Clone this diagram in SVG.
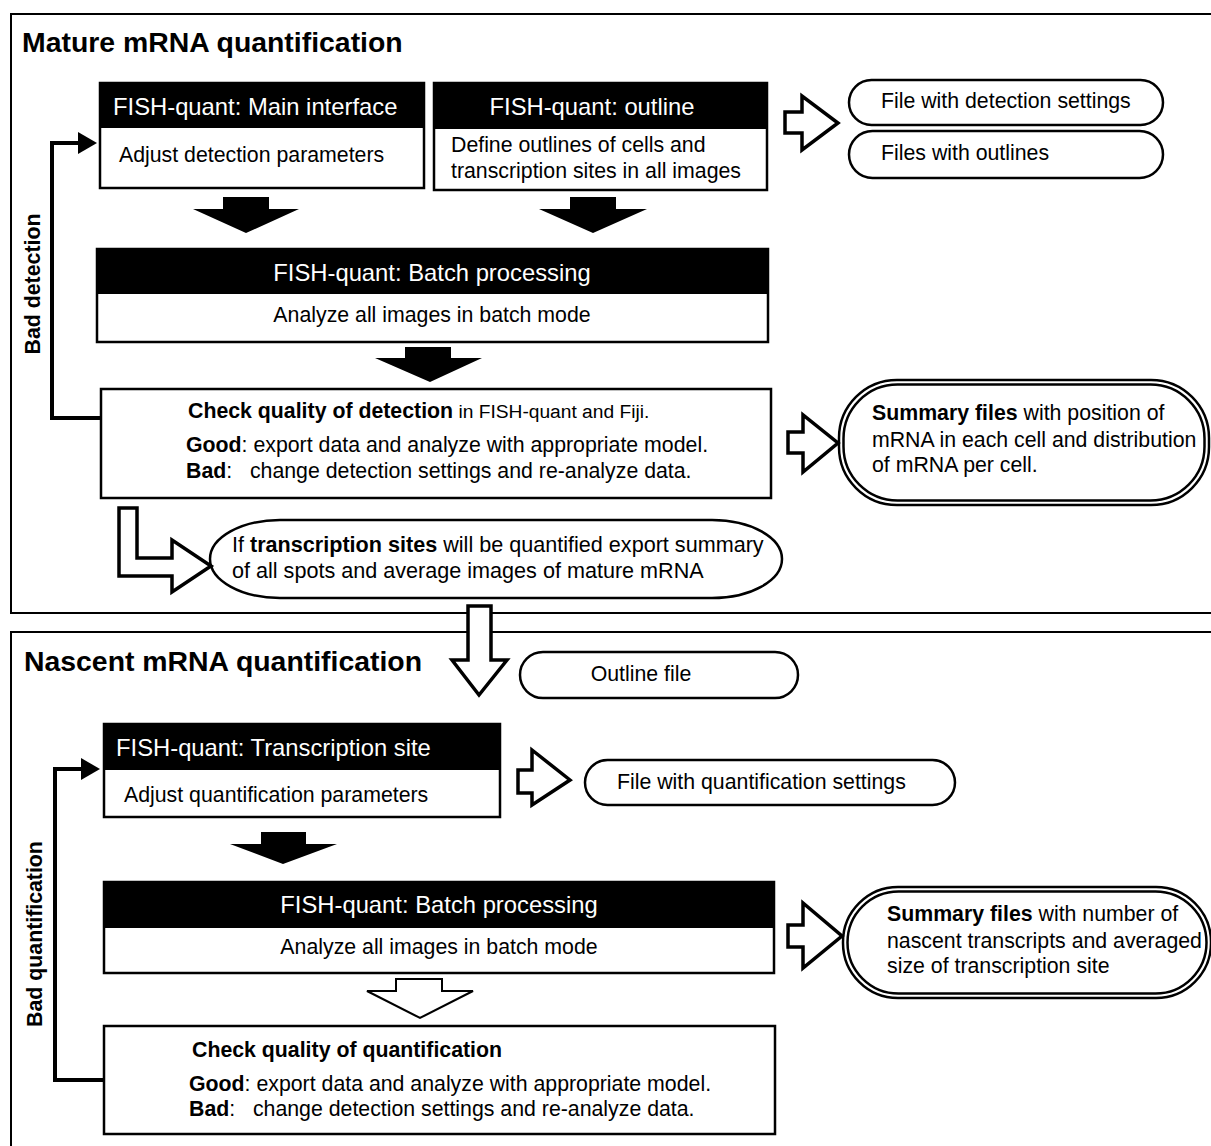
<svg xmlns="http://www.w3.org/2000/svg" width="1211" height="1146" viewBox="0 0 1211 1146">
<style>
text{font-family:"Liberation Sans",Arial,sans-serif;fill:#000}
.t{font-size:28.4px;font-weight:bold}
.h{font-size:23.8px;fill:#fff}
.b{font-size:21.3px}
.s{font-size:19.2px}
.bb{font-weight:bold}
.panel{fill:#fff;stroke:#000;stroke-width:2}
.hdr{fill:#000;stroke:#000;stroke-width:2}
.box{fill:#fff;stroke:#000;stroke-width:2.5}
.pill{fill:#fff;stroke:#000;stroke-width:2.5}
.holl{fill:#fff;stroke:#000;stroke-width:3.5;stroke-linejoin:miter}
.solid{fill:#000;stroke:none}
.fb{fill:none;stroke:#000;stroke-width:4}
</style>
<rect x="0" y="0" width="1211" height="1146" fill="#fff"/>
<g id="panel-mature">
<rect class="panel" x="11" y="14" width="1212" height="599"/>
<text class="t" x="22" y="52">Mature mRNA quantification</text>
</g>
<g id="panel-nascent">
<rect class="panel" x="11" y="632" width="1212" height="530"/>
<text class="t" x="24" y="671">Nascent mRNA quantification</text>
</g>
<g id="node-main-interface">
<rect class="box" x="100" y="83" width="324" height="105"/>
<rect class="hdr" x="100" y="83" width="324" height="44"/>
<text class="h" x="113" y="115">FISH-quant: Main interface</text>
<text class="b" x="119" y="162">Adjust detection parameters</text>
</g>
<g id="node-outline">
<rect class="box" x="434" y="83" width="333" height="107"/>
<rect class="hdr" x="434" y="83" width="333" height="45"/>
<text class="h" x="592" y="115" text-anchor="middle">FISH-quant: outline</text>
<text class="b" x="451" y="152">Define outlines of cells and</text>
<text class="b" x="451" y="178">transcription sites in all images</text>
</g>
<g id="node-file-detection">
<rect class="pill" x="849" y="80" width="314" height="45" rx="22.5"/>
<text class="b" x="881" y="108">File with detection settings</text>
</g>
<g id="node-files-outlines">
<rect class="pill" x="849" y="131" width="314" height="47" rx="23.5"/>
<text class="b" x="881" y="160">Files with outlines</text>
</g>
<g id="node-batch1">
<rect class="box" x="97" y="249" width="671" height="93"/>
<rect class="hdr" x="97" y="249" width="671" height="44"/>
<text class="h" x="432" y="281" text-anchor="middle">FISH-quant: Batch processing</text>
<text class="b" x="432" y="322" text-anchor="middle">Analyze all images in batch mode</text>
</g>
<g id="node-check1">
<rect class="box" x="101" y="389" width="670" height="109"/>
<text class="b" x="188" y="418"><tspan class="bb">Check quality of detection</tspan><tspan class="s"> in FISH-quant and Fiji.</tspan></text>
<text class="b" x="186" y="452"><tspan class="bb">Good</tspan>: export data and analyze with appropriate model.</text>
<text class="b" x="186" y="478" xml:space="preserve"><tspan class="bb">Bad</tspan>:   change detection settings and re-analyze data.</text>
</g>
<g id="node-summary1">
<rect class="pill" x="839" y="380" width="370" height="125" rx="58"/>
<rect class="pill" x="843.5" y="384.5" width="361" height="116" rx="54" stroke-width="2"/>
<text class="b" x="872" y="420"><tspan class="bb">Summary files</tspan> with position of</text>
<text class="b" x="872" y="447">mRNA in each cell and distribution</text>
<text class="b" x="872" y="472">of mRNA per cell.</text>
</g>
<g id="node-ts-export">
<rect class="pill" x="210" y="520" width="572" height="78" rx="70" ry="39"/>
<text class="b" x="232" y="552" style="font-size:21.6px">If <tspan class="bb">transcription sites</tspan> will be quantified export summary</text>
<text class="b" x="232" y="578" style="font-size:21.6px">of all spots and average images of mature mRNA</text>
</g>
<g id="node-outline-file">
<rect class="pill" x="520" y="652" width="278" height="46" rx="23"/>
<text class="b" x="641" y="681" text-anchor="middle">Outline file</text>
</g>
<g id="node-ts">
<rect class="box" x="104" y="724" width="396" height="93"/>
<rect class="hdr" x="104" y="724" width="396" height="45"/>
<text class="h" x="116" y="756">FISH-quant: Transcription site</text>
<text class="b" x="124" y="802">Adjust quantification parameters</text>
</g>
<g id="node-file-quant">
<rect class="pill" x="585" y="760" width="370" height="45" rx="22.5"/>
<text class="b" x="617" y="789">File with quantification settings</text>
</g>
<g id="node-batch2">
<rect class="box" x="104" y="882" width="670" height="91"/>
<rect class="hdr" x="104" y="882" width="670" height="45"/>
<text class="h" x="439" y="913" text-anchor="middle">FISH-quant: Batch processing</text>
<text class="b" x="439" y="954" text-anchor="middle">Analyze all images in batch mode</text>
</g>
<g id="node-summary2">
<rect class="pill" x="843" y="887" width="368" height="111" rx="55"/>
<rect class="pill" x="847.5" y="891.5" width="359" height="102" rx="51" stroke-width="2"/>
<text class="b" x="887" y="921"><tspan class="bb">Summary files</tspan> with number of</text>
<text class="b" x="887" y="948">nascent transcripts and averaged</text>
<text class="b" x="887" y="973">size of transcription site</text>
</g>
<g id="node-check2">
<rect class="box" x="104" y="1026" width="671" height="108"/>
<text class="b bb" x="192" y="1057">Check quality of quantification</text>
<text class="b" x="189" y="1091"><tspan class="bb">Good</tspan>: export data and analyze with appropriate model.</text>
<text class="b" x="189" y="1116" xml:space="preserve"><tspan class="bb">Bad</tspan>:   change detection settings and re-analyze data.</text>
</g>
<g id="connectors">
<polygon class="holl" points="785,112 802,112 802,96 838,123 802,150 802,133 785,133"/>
<polygon class="solid" points="223,197 269,197 269,209 299,209 246,233 193,209 223,209"/>
<polygon class="solid" points="570,197 616,197 616,209 647,209 593,233 539,209 570,209"/>
<polygon class="solid" points="405,347 451,347 451,358 482,358 430,382 375,358 405,358"/>
<polyline class="fb" points="101,418 52,418 52,143 82,143"/>
<polygon class="solid" points="78,132 97,143 78,154"/>
<text class="b bb" transform="translate(40,284) rotate(-90)" text-anchor="middle">Bad detection</text>
<polygon class="holl" points="788,432 803,432 803,415 838,443 803,472 803,453 788,453"/>
<polygon class="holl" points="119,508 137,508 137,558 172,558 172,540 211,566 172,592 172,576 119,576"/>
<polygon class="holl" points="468,606 491,606 491,660 507,660 479,695 452,660 468,660"/>
<polygon class="holl" points="518,770 532,770 532,750 570,780 532,805 532,793 518,793"/>
<polygon class="solid" points="261,832 306,832 306,844 337,844 283,864 230,844 261,844"/>
<polyline class="fb" points="104,1080 55,1080 55,769 85,769"/>
<polygon class="solid" points="81,758 100,769 81,780"/>
<text class="b bb" transform="translate(42,934) rotate(-90)" text-anchor="middle">Bad quantification</text>
<polygon class="holl" points="788,925 803,925 803,903 842,936 803,968 803,947 788,947"/>
<polygon class="holl" style="stroke-width:2" points="396,979 442,979 442,991 473,991 420,1018 367,991 396,991"/>
</g>
</svg>
